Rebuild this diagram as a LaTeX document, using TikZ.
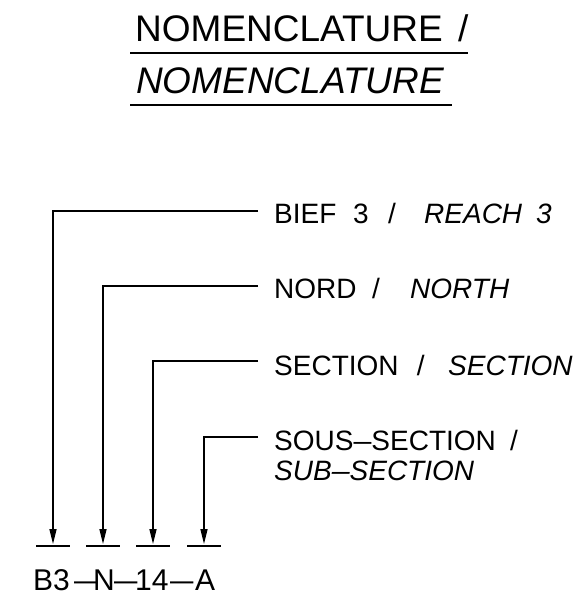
\documentclass[tikz,border=0pt]{standalone}
\usepackage{fontspec}
\setmainfont{Liberation Sans}
\usetikzlibrary{arrows.meta}
\newcommand{\pc}[2]{\makebox[#1pt][l]{#2}}
\newcommand{\ldash}{\scalebox{1.4}[1]{–}}
\newcommand{\sdash}{\scalebox{1.15}[1]{–}}
\begin{document}
\begin{tikzpicture}[x=1pt,y=-1pt,
  lbl/.style={anchor=base west,inner sep=0pt,font=\fontsize{28}{30}\selectfont},
  codef/.style={anchor=base west,inner sep=0pt,font=\fontsize{30}{32}\selectfont},
  ttl/.style={anchor=base west,inner sep=0pt,font=\fontsize{37}{40}\selectfont},
  leader/.style={line width=1.4pt,-{Triangle[length=15pt,width=7pt]}},
  tick/.style={line width=1.4pt},
  uline/.style={line width=2pt}]
\useasboundingbox (0,0) rectangle (573,606);
% title
\node[ttl] (t1) at (135,41) {\pc{323}{NOMENCLATURE}/};
\node[ttl] (t2) at (136,93) {\itshape NOMENCLATURE};
\draw[uline] (130,53) -- (468,53);
\draw[uline] (130,105) -- (452,105);
% labels
\node[lbl] (l1) at (274,223) {\pc{79}{BIEF}\pc{35}{3}\pc{36}{/}\pc{112}{\itshape REACH}\textit{3}};
\node[lbl] (l2) at (274,298) {\pc{98}{NORD}\pc{38}{/}\textit{NORTH}};
\node[lbl] (l3) at (274,375) {\pc{138}{SECTION}\pc{36}{\,/}\textit{SECTION}};
\node[lbl] (l4) at (274,450) {\pc{236}{SOUS\sdash SECTION}/};
\node[lbl] (l5) at (274,480) {\itshape SUB\sdash SECTION};
% code
\node[codef] (code) at (33,590) {\pc{41}{B3}\pc{19}{\ldash}\pc{21}{N}\pc{21}{\ldash}\pc{35}{14}\pc{25}{\ldash}A};
% leader endpoints
\coordinate (e1) at (258,211);
\coordinate (e2) at (258,286);
\coordinate (e3) at (258,361);
\coordinate (e4) at (258,437);
\coordinate (a1) at (53,544);
\coordinate (a2) at (103,544);
\coordinate (a3) at (153,544);
\coordinate (a4) at (204,544);
\draw[leader] (e1) -| (a1);
\draw[leader] (e2) -| (a2);
\draw[leader] (e3) -| (a3);
\draw[leader] (e4) -| (a4);
% base ticks
\foreach \x in {53,103,153,204}{
  \draw[tick] (\x-17,546) -- (\x+17,546);
}
\end{tikzpicture}
\end{document}
